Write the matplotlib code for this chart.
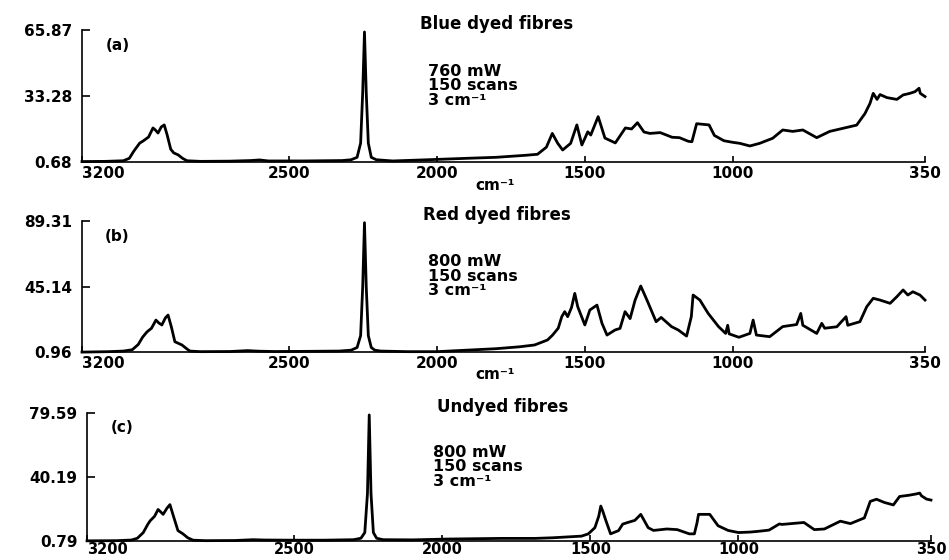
import matplotlib.pyplot as plt

# Raman shift (cm-1) and intensity, one pair of lists per fibre sample
blue_shift = [3200, 3120, 3060, 3040, 3025, 3005, 2994, 2975, 2960, 2952,
              2943, 2932, 2922, 2912, 2900, 2890, 2875, 2860, 2845, 2800,
              2700, 2630, 2600, 2570, 2450, 2320, 2290, 2270, 2258, 2251,
              2245, 2239, 2232, 2222, 2205, 2150, 2050, 1900, 1800, 1700,
              1660, 1630, 1610, 1592, 1575, 1548, 1527, 1510, 1490, 1480,
              1455, 1432, 1397, 1363, 1342, 1322, 1300, 1280, 1245, 1205,
              1180, 1150, 1138, 1122, 1080, 1062, 1030, 1000, 976, 942,
              909, 865, 831, 797, 763, 716, 672, 628, 581, 553,
              536, 525, 512, 502, 479, 445, 424, 401, 384, 370,
              366, 350]
blue_counts = [0.9, 1.0, 1.3, 2.5, 6.0, 10.0, 11.0, 13.0, 17.5, 16.5,
               15.0, 18.0, 19.0, 14.0, 7.0, 5.2, 4.2, 2.5, 1.3, 1.0,
               1.1, 1.4, 1.7, 1.2, 1.2, 1.4, 1.8, 3.0, 10.0, 35.0,
               64.9, 35.0, 10.0, 3.0, 1.8, 1.2, 1.7, 2.5, 3.0, 4.0,
               4.5, 8.0, 14.8, 10.0, 6.6, 9.9, 19.0, 9.1, 15.6, 14.0,
               23.1, 12.5, 10.1, 17.5, 17.0, 20.1, 15.5, 14.8, 15.2, 12.9,
               12.7, 10.9, 10.7, 19.6, 19.0, 13.8, 11.2, 10.4, 9.9, 8.6,
               9.9, 12.4, 16.5, 15.8, 16.5, 12.7, 15.8, 17.3, 18.9, 24.6,
               29.6, 34.6, 31.6, 34.0, 32.5, 31.6, 33.8, 34.6, 35.4, 37.1,
               34.6, 33.0]

red_shift = [3200, 3110, 3060, 3030, 3010, 2995, 2980, 2965, 2950, 2940,
             2930, 2918, 2909, 2898, 2886, 2862, 2845, 2835, 2800, 2700,
             2640, 2600, 2550, 2450, 2330, 2290, 2270, 2258, 2251, 2245,
             2239, 2232, 2222, 2210, 2190, 2100, 2000, 1900, 1800, 1720,
             1670, 1640, 1626, 1609, 1590, 1578, 1568, 1558, 1545, 1534,
             1524, 1500, 1483, 1459, 1442, 1425, 1398, 1381, 1364, 1347,
             1330, 1311, 1290, 1259, 1242, 1207, 1184, 1156, 1140, 1134,
             1111, 1083, 1048, 1024, 1017, 1012, 979, 942, 931, 920,
             875, 831, 784, 770, 763, 716, 699, 689, 648, 617,
             611, 570, 547, 525, 502, 468, 445, 424, 408, 391,
             367, 350]
red_counts = [0.9, 1.2, 1.6, 2.5, 6.0, 11.0, 14.6, 17.0, 22.5, 20.5,
              19.2, 24.0, 25.9, 18.0, 7.9, 5.7, 3.0, 1.6, 1.2, 1.3,
              1.9, 1.5, 1.3, 1.4, 1.6, 2.2, 4.0, 12.0, 45.0, 88.2,
              45.0, 12.0, 4.0, 2.2, 1.6, 1.2, 1.2, 2.2, 3.2, 4.5,
              5.7, 8.0, 9.1, 12.4, 17.0, 24.8, 28.2, 24.8, 31.0, 40.5,
              31.5, 19.2, 29.3, 32.6, 20.3, 12.4, 15.8, 16.9, 28.2, 23.5,
              36.0, 45.5, 36.0, 21.4, 24.3, 18.1, 15.8, 11.7, 24.8, 39.4,
              36.0, 27.0, 18.1, 13.5, 19.0, 13.2, 10.9, 13.5, 22.5, 12.4,
              11.3, 18.1, 19.5, 27.0, 19.0, 13.5, 20.3, 17.0, 18.0, 24.8,
              19.0, 21.4, 31.5, 37.2, 36.0, 33.8, 38.3, 42.8, 39.4, 41.6,
              39.4, 36.0]

plain_shift = [3200, 3100, 3050, 3030, 3010, 2995, 2987, 2972, 2960, 2950,
               2943, 2930, 2920, 2908, 2893, 2876, 2860, 2842, 2800, 2700,
               2640, 2600, 2500, 2400, 2300, 2275, 2262, 2253, 2247, 2241,
               2233, 2222, 2200, 2100, 1984, 1800, 1687, 1626, 1530, 1507,
               1485, 1472, 1465, 1458, 1449, 1432, 1405, 1391, 1374, 1350,
               1330, 1305, 1287, 1242, 1207, 1166, 1149, 1140, 1135, 1097,
               1069, 1035, 1000, 960, 931, 897, 862, 853, 779, 744,
               710, 656, 622, 575, 555, 534, 507, 477, 456, 423,
               399, 388, 382, 365, 350]
plain_counts = [0.9, 1.0, 1.4, 2.5, 6.0, 11.0, 13.2, 16.0, 20.2, 18.5,
                17.2, 21.0, 23.2, 16.0, 7.2, 5.2, 2.8, 1.3, 1.0, 1.1,
                1.6, 1.4, 1.3, 1.3, 1.6, 2.5, 6.0, 30.0, 78.4, 30.0,
                6.0, 2.5, 1.6, 1.5, 2.0, 2.4, 2.4, 2.8, 3.8, 5.2,
                9.0, 16.0, 22.3, 19.0, 14.0, 5.2, 7.2, 11.2, 12.2, 13.5,
                17.2, 9.0, 7.3, 8.2, 7.8, 5.2, 5.2, 12.0, 17.2, 17.2,
                10.2, 7.3, 6.0, 6.3, 6.8, 7.5, 11.3, 11.0, 12.2, 7.8,
                8.2, 13.0, 11.5, 15.0, 25.2, 26.5, 24.5, 23.0, 28.2, 29.0,
                29.8, 30.3, 28.6, 26.6, 26.0]

shifts = [blue_shift, red_shift, plain_shift]
counts = [blue_counts, red_counts, plain_counts]

panel_titles = ["Blue dyed fibres", "Red dyed fibres", "Undyed fibres"]
panel_tags = ["(a)", "(b)", "(c)"]
laser_power = ["760 mW", "800 mW", "800 mW"]
scan_count = ["150 scans", "150 scans", "150 scans"]
resolution = ["3 cm\u207b\u00b9", "3 cm\u207b\u00b9", "3 cm\u207b\u00b9"]
y_ticks = [[0.68, 33.28, 65.87], [0.96, 45.14, 89.31], [0.79, 40.19, 79.59]]
x_ticks = [3200, 2500, 2000, 1500, 1000, 350]

plt.rcParams["font.family"] = ["DejaVu Sans"]
plt.rcParams["font.weight"] = "bold"

fig = plt.figure(figsize=(9.49, 5.60), dpi=100)
boxes = [[0.0864, 0.7107, 0.8883, 0.2357],
         [0.0864, 0.3714, 0.8883, 0.2339],
         [0.0917, 0.0339, 0.8893, 0.2286]]

for i, box in enumerate(boxes):
    ax = fig.add_axes(box)
    ax.plot(shifts[i], counts[i], color="black", lw=2.0,
            solid_joinstyle="round", clip_on=False)

    ax.set_xlim(3200, 350)
    ax.set_ylim(y_ticks[i][0], y_ticks[i][-1])
    ax.set_xticks(x_ticks)
    ax.set_yticks(y_ticks[i])
    ax.set_yticklabels(["%.2f" % v for v in y_ticks[i]])

    ax.spines[["top", "right"]].set_visible(False)
    for side in ["left", "bottom"]:
        ax.spines[side].set_linewidth(1.2)
    ax.tick_params(direction="in", labelsize=11, width=1.2)
    ax.tick_params(axis="y", length=6, pad=7)
    # bottom panel sits at the figure edge, keep its labels tight
    ax.tick_params(axis="x", length=4, pad=3 if i < 2 else 0.5,
                   labelsize=11 if i < 2 else 10.5)
    ax.xaxis.get_major_ticks()[0].label1.set_horizontalalignment("left")

    if i < 2:
        ax.text(0.49, -0.175, "cm\u207b\u00b9", transform=ax.transAxes,
                ha="center", va="center", fontsize=11)

    ax.text(0.492, 1.06, panel_titles[i], transform=ax.transAxes,
            ha="center", va="center_baseline", fontsize=12)
    ax.text(0.042, 0.885, panel_tags[i], transform=ax.transAxes,
            ha="center", va="center", fontsize=11)

    notes = [laser_power[i], scan_count[i], resolution[i]]
    for line, y in zip(notes, [0.70, 0.59, 0.48]):
        ax.text(0.41, y, line, transform=ax.transAxes,
                ha="left", va="center_baseline", fontsize=11.5)

fig.savefig("out.png", dpi=100)
